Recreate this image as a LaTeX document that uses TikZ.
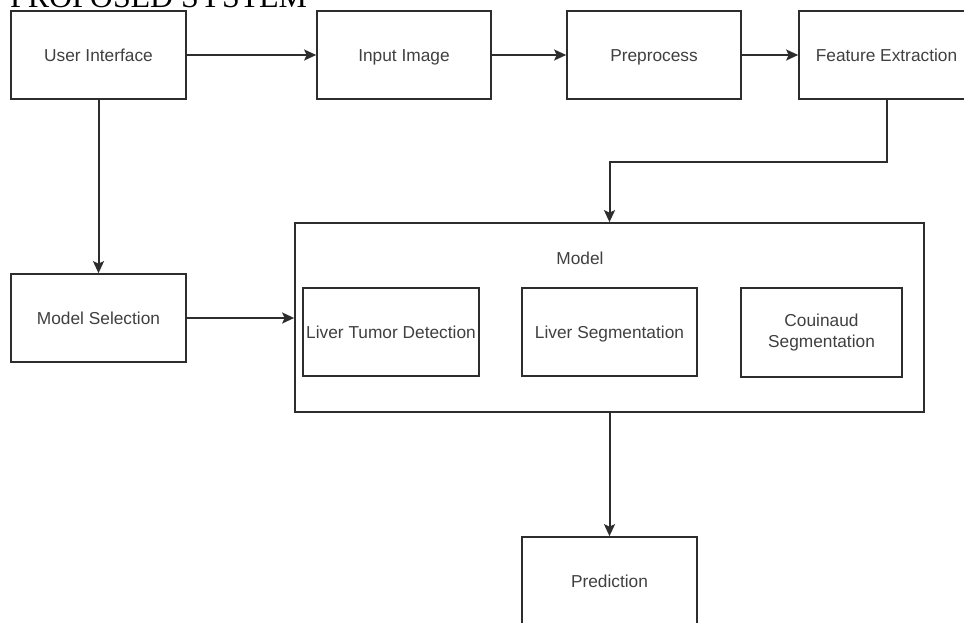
\documentclass[tikz,border=0pt]{standalone}
\usepackage{fontspec}
\setmainfont{Liberation Serif}
\newfontfamily\arialf{Liberation Sans}
\usetikzlibrary{arrows.meta}
\definecolor{linec}{RGB}{45,45,45}
\definecolor{textc}{RGB}{64,64,64}
\begin{document}
\begin{tikzpicture}[x=1pt,y=-1pt,
  boxbase/.style={draw=linec,line width=1.7pt,fill=white,minimum width=175pt,minimum height=88pt,inner sep=0pt,
    font=\arialf\fontsize{17.3}{21.5}\selectfont,text=textc,align=center},
  box/.style={boxbase,text height=14.5pt,text depth=1.6pt},
  conn/.style={draw=linec,line width=2pt,-{Stealth[length=12pt,width=11pt,inset=2.5pt]}}]
\clip (0,0) rectangle (964,622);
\fill[white] (0,0) rectangle (964,622);
\node[anchor=base west,inner sep=0pt,font=\fontsize{31.9}{36}\selectfont] (title) at (10,7) {PROPOSED SYSTEM};
\node[box] (ui) at (98.5,55) {User Interface};
\node[box,minimum width=174pt] (inp) at (404,55) {Input Image};
\node[box,minimum width=174pt] (pre) at (654,55) {Preprocess};
\node[box] (fe) at (886.5,55) {Feature Extraction};
\node[box] (ms) at (98.5,318) {Model Selection};
\node[boxbase,minimum width=629pt,minimum height=189pt] (model) at (609.5,317.5) {};
\node[font=\arialf\fontsize{17.3}{21.5}\selectfont,text=textc,inner sep=0pt,text height=14.5pt,text depth=1.6pt] (mlabel) at (580,258) {Model};
\node[box,minimum width=176pt] (ltd) at (391,332) {Liver Tumor Detection};
\node[box] (ls) at (609.5,332) {Liver Segmentation};
\node[boxbase,minimum width=161pt,minimum height=89pt] (cs) at (821.5,332.5) {Couinaud\\Segmentation};
\node[box] (pred) at (609.5,581) {Prediction};
\draw[conn] (ui.east) -- (inp.west);
\draw[conn] (inp.east) -- (pre.west);
\draw[conn] (pre.east) -- (fe.west);
\draw[conn] (ui.south) -- (ms.north);
\draw[conn] (ms.east) -- (ms.east -| model.west);
\draw[conn] (fe.south) -- ++(0,62) -| (model.north);
\draw[conn] (model.south) -- (pred.north);
\end{tikzpicture}
\end{document}
